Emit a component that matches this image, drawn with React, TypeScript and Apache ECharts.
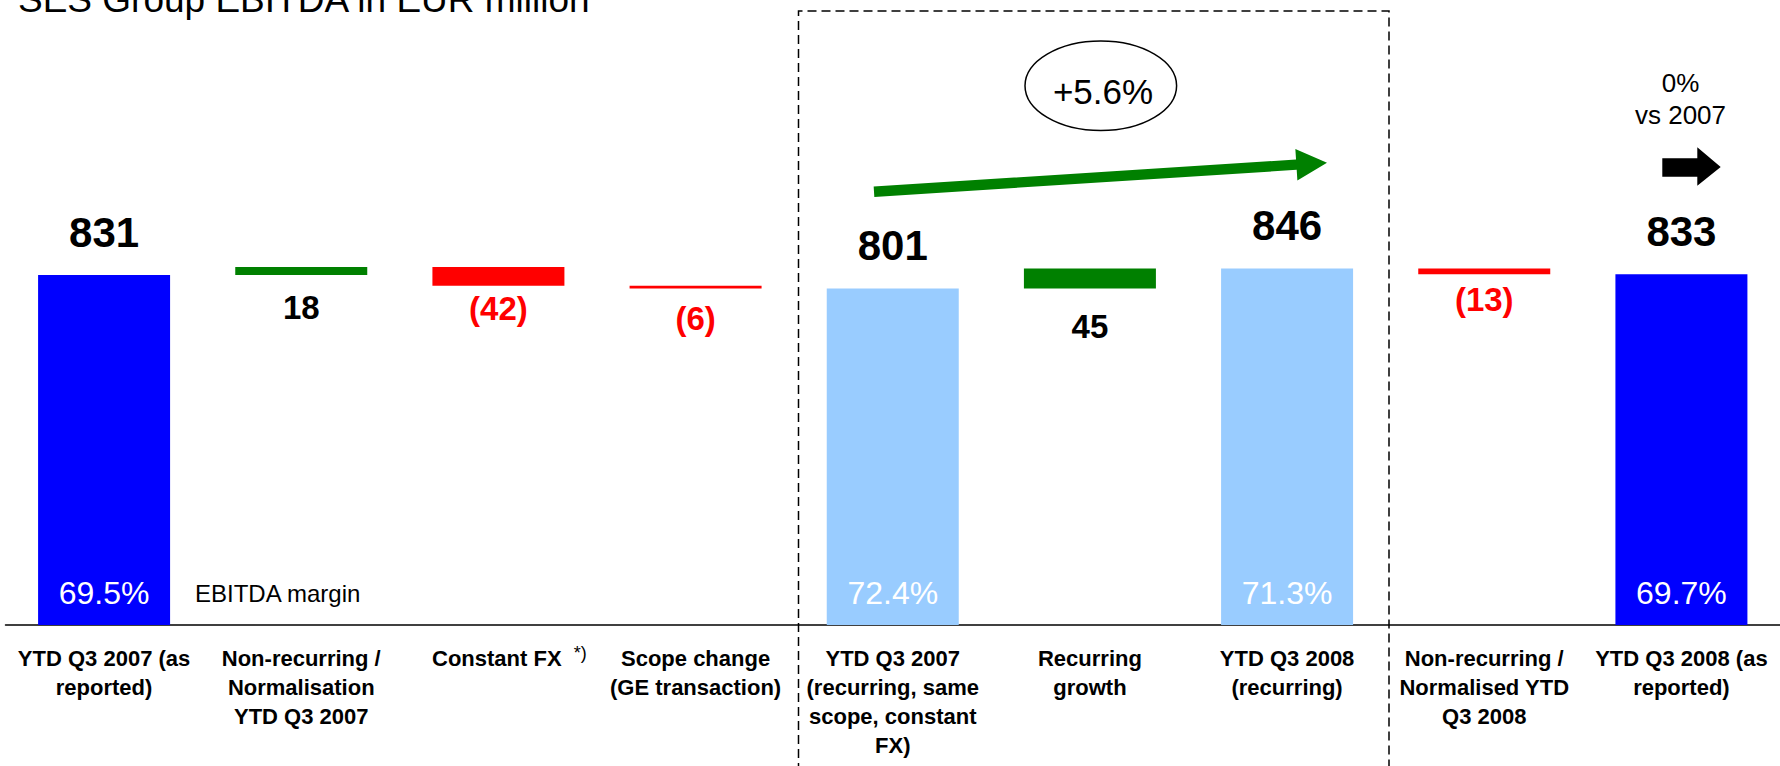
import React, { useEffect, useRef } from 'react';
import * as echarts from 'echarts';

// ---------- data ----------
const categories = [
  'YTD Q3 2007 (as\nreported)',
  'Non-recurring /\nNormalisation\nYTD Q3 2007',
  'Constant FX',
  'Scope change\n(GE transaction)',
  'YTD Q3 2007\n(recurring, same\nscope, constant\nFX)',
  'Recurring\ngrowth',
  'YTD Q3 2008\n(recurring)',
  'Non-recurring /\nNormalised YTD\nQ3 2008',
  'YTD Q3 2008 (as\nreported)',
];
const footnotes = [null, null, '*)', null, null, null, null, null, null];
const totals = [831, null, null, null, 801, null, 846, null, 833];
const changes = [null, 18, -42, -6, null, 45, null, -13, null];
const margins = [69.5, null, null, null, 72.4, null, 71.3, null, 69.7];
const totalKinds = ['reported', null, null, null, 'recurring', null, 'recurring', null, 'reported'];

// ---------- styles ----------
const FONT = "'Liberation Sans', Arial, Helvetica, sans-serif";
const KIND_COLORS: Record<string, string> = { reported: '#0000FF', recurring: '#99CCFF' };
const UP = '#008000';
const DOWN = '#FF0000';
const changeLabelGaps = [0, 16, 6.6, 14, 0, 21.5, 0, 9, 0];

function buildOption() {
  let running = 0;
  const bases: any[] = [];
  const steps: any[] = [];
  categories.forEach((_, i) => {
    const t = totals[i];
    if (t != null) {
      running = t;
      bases.push('-');
      steps.push('-');
    } else {
      const c = changes[i] as number;
      const lo = c >= 0 ? running : running + c;
      bases.push(lo);
      steps.push({
        value: Math.abs(c),
        itemStyle: { color: c >= 0 ? UP : DOWN },
        label: { distance: changeLabelGaps[i], color: c >= 0 ? '#000' : DOWN },
      });
      running += c;
    }
  });

  const totalData = totals.map((v, i) =>
    v == null ? '-' : { value: v, itemStyle: { color: KIND_COLORS[totalKinds[i] as string] } }
  );
  const marginData = totals.map((v) => (v == null ? '-' : v));

  const growth = ((totals[6]! / totals[4]! - 1) * 100).toFixed(1);
  const vsPrev = Math.round((totals[8]! / totals[0]! - 1) * 100);

  const arrowT = [874, 191.7];
  const arrowP = [1327, 162.7];
  const dx = arrowP[0] - arrowT[0];
  const dy = arrowP[1] - arrowT[1];
  const len = Math.sqrt(dx * dx + dy * dy);
  const ux = dx / len, uy = dy / len;
  const nx = -uy, ny = ux;
  const headLen = 30.7, hw = 5.2, hh = 15.8;
  const B = [arrowP[0] - ux * headLen, arrowP[1] - uy * headLen];
  const greenArrow = [
    [arrowT[0] + nx * hw, arrowT[1] + ny * hw],
    [arrowT[0] - nx * hw, arrowT[1] - ny * hw],
    [B[0] - nx * hw, B[1] - ny * hw],
    [B[0] - nx * hh, B[1] - ny * hh],
    arrowP,
    [B[0] + nx * hh, B[1] + ny * hh],
    [B[0] + nx * hw, B[1] + ny * hw],
  ];

  return {
    animation: false,
    backgroundColor: '#ffffff',
    textStyle: { fontFamily: FONT },
    grid: { left: 5.5, top: 200, width: 1782, height: 425, containLabel: false },
    xAxis: {
      type: 'category',
      data: categories,
      axisLine: { show: true, lineStyle: { color: '#000', width: 1.5 } },
      axisTick: { show: false },
      splitLine: { show: false },
      axisLabel: {
        interval: 0,
        margin: 19,
        color: '#000',
        fontFamily: FONT,
        fontSize: 22,
        fontWeight: 'bold',
        lineHeight: 29,
        formatter: (value: string, idx: number) =>
          footnotes[idx] ? `{pad| }${value}  {sup|${footnotes[idx]}}` : value,
        rich: {
          pad: { width: 22, fontSize: 22, lineHeight: 29 },
          sup: { fontSize: 18, fontWeight: 'normal', fontFamily: FONT, color: '#000', lineHeight: 16, verticalAlign: 'top' },
        },
      },
    },
    yAxis: {
      type: 'value',
      min: 43,
      max: 1000,
      show: false,
      splitLine: { show: false },
    },
    series: [
      {
        name: 'total',
        type: 'bar',
        data: totalData,
        barWidth: 132,
        barGap: '-100%',
        label: {
          show: true,
          position: 'top',
          distance: 22,
          color: '#000',
          fontFamily: FONT,
          fontSize: 42,
          fontWeight: 'bold',
          lineHeight: 42,
        },
      },
      {
        name: 'base',
        type: 'bar',
        stack: 'wf',
        data: bases,
        barWidth: 132,
        barGap: '-100%',
        itemStyle: { color: 'rgba(0,0,0,0)' },
        silent: true,
      },
      {
        name: 'change',
        type: 'bar',
        stack: 'wf',
        data: steps,
        barWidth: 132,
        barGap: '-100%',
        label: {
          show: true,
          position: 'bottom',
          fontFamily: FONT,
          fontSize: 33,
          fontWeight: 'bold',
          lineHeight: 33,
          formatter: (p: any) => {
            const c = changes[p.dataIndex] as number;
            return c >= 0 ? `${c}` : `(${Math.abs(c)})`;
          },
        },
      },
      {
        name: 'margin',
        type: 'bar',
        data: marginData,
        barWidth: 132,
        barGap: '-100%',
        itemStyle: { color: 'rgba(0,0,0,0)' },
        silent: true,
        label: {
          show: true,
          position: 'insideBottom',
          distance: 16,
          color: '#ffffff',
          fontFamily: FONT,
          fontSize: 32,
          lineHeight: 32,
          formatter: (p: any) => `${(margins[p.dataIndex] as number).toFixed(1)}%`,
        },
      },
    ],
    graphic: [
      {
        type: 'text',
        x: 18,
        y: -1,
        style: {
          text: 'SES Group EBITDA in EUR million',
          fontFamily: FONT,
          fontSize: 37,
          fill: '#000',
          align: 'left',
          verticalAlign: 'middle',
          textAlign: 'left',
          textVerticalAlign: 'middle',
        },
      },
      {
        type: 'polyline',
        shape: { points: [[798.5, 800], [798.5, 11], [1389, 11], [1389, 800]] },
        style: { stroke: '#000', lineWidth: 1.5, lineDash: [9, 5], fill: null },
      },
      {
        type: 'ellipse',
        shape: { cx: 1100.8, cy: 85.8, rx: 75.8, ry: 44.8 },
        style: { fill: 'rgba(0,0,0,0)', stroke: '#000', lineWidth: 1.5 },
      },
      {
        type: 'text',
        x: 1103,
        y: 91,
        style: {
          text: `+${growth}%`,
          fontFamily: FONT,
          fontSize: 35,
          fill: '#000',
          align: 'center',
          verticalAlign: 'middle',
          textAlign: 'center',
          textVerticalAlign: 'middle',
        },
      },
      {
        type: 'polygon',
        shape: { points: greenArrow },
        style: { fill: UP },
      },
      {
        type: 'text',
        x: 1680.5,
        y: 99,
        style: {
          text: `${vsPrev}%\nvs 2007`,
          fontFamily: FONT,
          fontSize: 26,
          lineHeight: 32,
          fill: '#000',
          align: 'center',
          verticalAlign: 'middle',
          textAlign: 'center',
          textVerticalAlign: 'middle',
        },
      },
      {
        type: 'polygon',
        shape: {
          points: [
            [1662.3, 158.3], [1697.3, 158.3], [1697.3, 147.3], [1720.7, 167],
            [1697.3, 185.7], [1697.3, 176.7], [1662.3, 176.7],
          ],
        },
        style: { fill: '#000' },
      },
      {
        type: 'text',
        x: 195,
        y: 593.5,
        style: {
          text: 'EBITDA margin',
          fontFamily: FONT,
          fontSize: 24,
          fill: '#000',
          align: 'left',
          verticalAlign: 'middle',
          textAlign: 'left',
          textVerticalAlign: 'middle',
        },
      },
    ],
  };
}

export default function App() {
  const ref = useRef<HTMLDivElement>(null);
  useEffect(() => {
    document.body.style.margin = '0';
    if (!ref.current) return;
    const chart = echarts.init(ref.current, undefined, { renderer: 'svg' });
    chart.setOption(buildOption() as any);
    return () => chart.dispose();
  }, []);
  return <div ref={ref} style={{ position: 'absolute', left: 0, top: 0, width: 1780, height: 766 }} />;
}
